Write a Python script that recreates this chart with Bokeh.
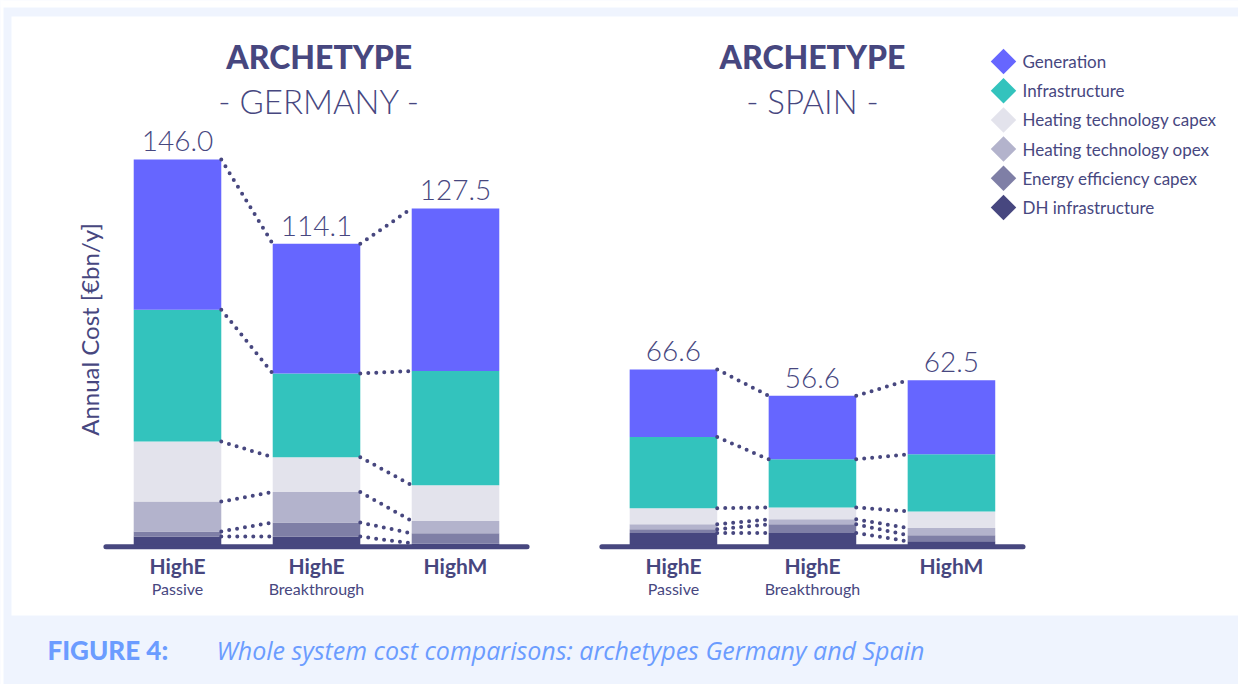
import math
from bokeh.plotting import figure
from bokeh.models import ColumnDataSource, Range1d, BoxAnnotation, Label
from bokeh.core.properties import value
from bokeh.embed import file_html
from bokeh.resources import INLINE

# ---------------- data ----------------
countries = ["GERMANY", "SPAIN"]
scenario_main = ["HighE", "HighE", "HighM"]
scenario_sub = ["Passive", "Breakthrough", ""]

series_names = ["Generation", "Infrastructure", "Heating technology capex",
                "Heating technology opex", "Energy efficiency capex", "DH infrastructure"]
series_colors = ["#6666ff", "#33c3bd", "#e3e3ec", "#b3b3cc", "#7f7fa6", "#47477f"]

de_generation = [56.8, 49.0, 61.5]
de_infrastructure = [49.9, 31.7, 43.2]
de_ht_capex = [22.7, 13.2, 13.5]
de_ht_opex = [11.3, 11.5, 4.7]
de_ee_capex = [1.9, 5.3, 3.8]
de_dh_infra = [3.4, 3.4, 0.8]
de_totals = [146.0, 114.1, 127.5]

es_generation = [25.6, 24.0, 28.0]
es_infrastructure = [26.9, 18.2, 21.6]
es_ht_capex = [6.1, 4.5, 6.3]
es_ht_opex = [1.9, 1.9, 2.7]
es_ee_capex = [1.4, 3.3, 2.3]
es_dh_infra = [4.7, 4.7, 1.6]
es_totals = [66.6, 56.6, 62.5]

y_label = "Annual Cost [€bn/y]"
caption_head = "FIGURE 4:"
caption_body = "Whole system cost comparisons: archetypes Germany and Spain"

# ---------------- layout helpers ----------------
TEXT = "#47477f"
LAV = "#eff4fe"
CAP = "#6b9cff"
W, H = 1238, 684
PX_PER_SLOT = 139.0
PX_PER_UNIT = 2.644
BASE_PX = 545.0
ORIGIN_PX = 177.0
GROUP_GAP = 3.568
BAR_W = 0.63


def sx(px):
    return (px - ORIGIN_PX) / PX_PER_SLOT


def sy(py):
    return (BASE_PX - py) / PX_PER_UNIT


p = figure(width=W, height=H, output_backend="svg", toolbar_location=None,
           x_range=Range1d(sx(0), sx(W)), y_range=Range1d(sy(H), sy(0)),
           min_border=0)
p.xaxis.visible = False
p.yaxis.visible = False
p.grid.visible = False
p.outline_line_color = None
p.background_fill_color = LAV
p.border_fill_color = LAV

for l, r, t, b in [(0, W + 5, -5, 7), (-5, 3, -5, H + 5)]:
    p.add_layout(BoxAnnotation(left=sx(l), right=sx(r), top=sy(t), bottom=sy(b),
                               fill_color="white", fill_alpha=1, line_color=None, level="underlay"))
p.add_layout(BoxAnnotation(left=sx(11), right=sx(W + 5), top=sy(16), bottom=sy(615),
                           fill_color="white", fill_alpha=1, line_color=None, level="underlay"))

# stacked data (bottom -> top)
stack_keys = ["dh", "ee", "hto", "htc", "inf", "gen"]
stack_colors = list(reversed(series_colors))
de = [de_dh_infra, de_ee_capex, de_ht_opex, de_ht_capex, de_infrastructure, de_generation]
es = [es_dh_infra, es_ee_capex, es_ht_opex, es_ht_capex, es_infrastructure, es_generation]

xs = []
for g in range(len(countries)):
    xs += [g * GROUP_GAP + i for i in range(len(scenario_main))]
data = {"x": xs}
for k, a, b in zip(stack_keys, de, es):
    data[k] = list(a) + list(b)
src = ColumnDataSource(data)
p.vbar_stack(stack_keys, x="x", width=BAR_W, color=stack_colors, line_color=None, source=src)

# connectors (dotted)
x0s, y0s, x1s, y1s = [], [], [], []
for g, groups in enumerate([de, es]):
    n = len(scenario_main)
    cum = [[sum(groups[k][i] for k in range(j + 1)) for j in range(len(groups))] for i in range(n)]
    for i in range(n - 1):
        for j in range(len(groups)):
            x0s.append(g * GROUP_GAP + i + BAR_W / 2)
            x1s.append(g * GROUP_GAP + i + 1 - BAR_W / 2)
            y0s.append(cum[i][j])
            y1s.append(cum[i + 1][j])
p.segment(x0=x0s, y0=y0s, x1=x1s, y1=y1s, line_color=TEXT, line_width=4,
          line_dash="0 8", line_cap="round")

# baselines
for g in range(len(countries)):
    p.line([g * GROUP_GAP - 0.515, g * GROUP_GAP + len(scenario_main) - 1 + 0.515],
           [-0.45, -0.45], line_color=TEXT, line_width=5, line_cap="round")

# totals
tot_y = de_totals + es_totals
p.text(x=xs, y=[t + 18 / PX_PER_UNIT for t in tot_y], text=["%.1f" % t for t in tot_y],
       text_align="center", text_baseline="middle", text_color=TEXT,
       text_font=value("Lato Light"), text_font_size="28px")

# category labels
p.text(x=xs, y=[sy(565)] * len(xs), text=scenario_main * len(countries), text_align="center",
       text_baseline="middle", text_color=TEXT, text_font=value("Lato"),
       text_font_style="bold", text_font_size="21px")
p.text(x=xs, y=[sy(587.5)] * len(xs), text=scenario_sub * len(countries), text_align="center",
       text_baseline="middle", text_color=TEXT, text_font=value("Lato"),
       text_font_size="16px")

# titles
for g, c in enumerate(countries):
    cx = g * GROUP_GAP + 1.02 - 0.02 * g
    p.add_layout(Label(x=cx, y=sy(56), text="ARCHETYPE", text_align="center",
                       text_baseline="middle", text_color=TEXT, text_font="Lato Black",
                       text_font_size="32px"))
    p.add_layout(Label(x=cx, y=sy(100), text="- %s -" % c, text_align="center",
                       text_baseline="middle", text_color=TEXT, text_font="Lato Light",
                       text_font_size="33px"))

# y axis label
p.add_layout(Label(x=sx(89), y=sy(329), text=y_label, angle=math.pi / 2, text_align="center",
                   text_baseline="middle", text_color=TEXT, text_font="Lato", text_font_size="24px"))

# legend
ly = [sy(61 + 29.2 * i) for i in range(len(series_names))]
p.scatter(x=[sx(1003)] * len(series_names), y=ly, marker="square", angle=math.pi / 4, size=18,
          color=series_colors, line_color=None)
p.text(x=[sx(1022)] * len(series_names), y=ly, text=series_names, text_align="left",
       text_baseline="middle", text_color=TEXT, text_font=value("Lato"), text_font_size="17px")

# caption
p.add_layout(Label(x=sx(47), y=sy(649.5), text=caption_head, text_align="left",
                   text_baseline="middle", text_color=CAP, text_font="Lato Black",
                   text_font_size="26px"))
p.add_layout(Label(x=sx(216), y=sy(649.5), text=caption_body, text_align="left",
                   text_baseline="middle", text_color=CAP, text_font="Open Sans",
                   text_font_style="italic", text_font_size="25px"))

open("out.html", "w").write(file_html(p, INLINE))
